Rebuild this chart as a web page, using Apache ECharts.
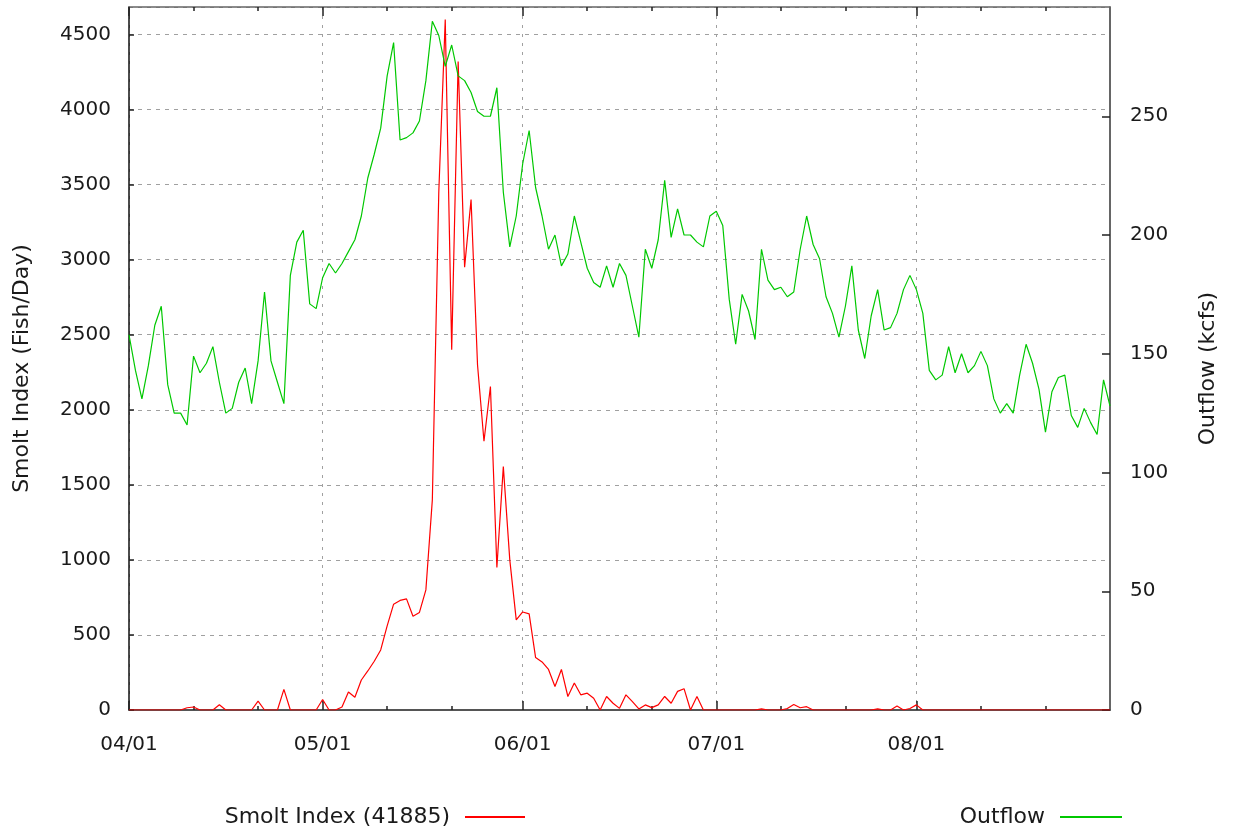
<!DOCTYPE html>
<html>
<head>
<meta charset="utf-8">
<script src="https://cdn.jsdelivr.net/npm/echarts@6/dist/echarts.min.js"></script>
<style>
  html, body { margin: 0; padding: 0; background: #ffffff; }
  #chart { width: 1234px; height: 835px; }
</style>
</head>
<body>
<div id="chart"></div>
<script>
// ---- Data ----
const monthNumbers = [4, 5, 6, 7, 8];
const monthDays = [30, 31, 30, 31, 31];
const monthLabels = ['04/01', '05/01', '06/01', '07/01', '08/01'];

// Smolt Index (Fish/Day), one value per day 04/01 .. 08/31
const smolt = [
  0,0,0,0,0,0,0,0,0,15,
  20,0,0,0,35,0,0,0,0,0,
  59,0,0,0,137,0,0,0,0,0,
  70,0,0,20,120,85,200,260,325,400,
  560,705,730,740,625,650,800,1400,3450,4600,
  2400,4320,2950,3400,2300,1790,2155,949,1621,1000,
  600,653,640,349,320,270,157,270,90,180,
  101,112,78,0,90,45,11,101,56,7,
  34,16,34,90,45,124,142,0,90,0,
  0,0,0,0,0,0,0,0,7,0,
  0,0,10,37,15,22,0,0,0,0,
  0,0,0,0,0,0,7,0,0,27,
  0,10,34,0,0,0,0,0,0,0,
  0,0,0,0,0,0,0,0,0,0,
  0,0,0,0,0,0,0,0,0,0,
  0,0,0
];

// Outflow (kcfs), one value per day 04/01 .. 08/31
const outflow = [
  158,143,131,145,162,170,137,125,125,120,
  149,142,146,153,138,125,127,138,144,129,
  147,176,147,138,129,183,197,202,171,169,
  182,188,184,188,193,198,208,224,234,245,
  267,281,240,241,243,248,265,290,284,271,
  280,267,265,260,252,250,250,262,218,195,
  208,230,244,220,208,194,200,187,192,208,
  197,186,180,178,187,178,188,183,170,157,
  194,186,198,223,199,211,200,200,197,195,
  208,210,204,173,154,175,168,156,194,181,
  177,178,174,176,194,208,196,190,174,167,
  157,170,187,160,148,166,177,160,161,167,
  177,183,177,167,143,139,141,153,142,150,
  142,145,151,145,131,125,129,125,141,154,
  146,135,117,134,140,141,124,119,127,121,
  116,139,128
];

const seriesNames = ['Smolt Index (41885)', 'Outflow'];
const leftAxisName = 'Smolt Index (Fish/Day)';
const rightAxisName = 'Outflow (kcfs)';

// ---- Categories (dates) ----
const dates = [];
monthNumbers.forEach((m, k) => {
  for (let d = 1; d <= monthDays[k]; d++) {
    dates.push(String(m).padStart(2, '0') + '/' + String(d).padStart(2, '0'));
  }
});
const isMonthStart = (i) => monthLabels.indexOf(dates[i]) >= 0;
const isMinor = (i) => /\/(11|21)$/.test(dates[i]);

const FONT = 'DejaVu Sans';
const TXT = '#1a1a1a';
const gridDash = { color: '#a0a0a0', width: 1 };

const chart = echarts.init(document.getElementById('chart'), null, { renderer: 'canvas' });

const baseX = (extra) => Object.assign({
  type: 'category',
  data: dates,
  boundaryGap: false,
  gridIndex: 0,
  axisLabel: { show: false },
  splitLine: { show: false },
  axisPointer: { show: false }
}, extra);

chart.setOption({
  animation: false,
  backgroundColor: '#ffffff',
  textStyle: { fontFamily: FONT, color: TXT },
  grid: { left: 129, right: 124, top: 7, bottom: 125, containLabel: false },
  legend: [
    {
      data: [seriesNames[0]],
      right: 704, top: 801, align: 'right', orient: 'horizontal',
      icon: 'rect', itemWidth: 60, itemHeight: 2,
      selectedMode: false,
      textStyle: { fontFamily: FONT, fontSize: 22, color: TXT, padding: [0, 10, 0, 0] }
    },
    {
      data: [seriesNames[1]],
      right: 107, top: 801, align: 'right', orient: 'horizontal',
      icon: 'rect', itemWidth: 62, itemHeight: 2,
      selectedMode: false,
      textStyle: { fontFamily: FONT, fontSize: 22, color: TXT, padding: [0, 10, 0, 0] }
    }
  ],
  xAxis: [
    baseX({
      position: 'bottom',
      axisLine: { show: true, lineStyle: { color: '#555555', width: 2 } },
      axisTick: { show: true, inside: true, length: 9, interval: (i) => isMonthStart(i), lineStyle: { color: '#222', width: 1.5 } },
      axisLabel: { show: true, interval: (i) => isMonthStart(i), margin: 25, fontFamily: FONT, fontSize: 20, color: TXT },
      splitLine: { show: true, interval: (i) => isMonthStart(i), lineStyle: Object.assign({ type: [3, 6] }, gridDash) }
    }),
    baseX({
      position: 'bottom',
      axisLine: { show: false },
      axisTick: { show: true, inside: true, length: 4, interval: (i) => isMinor(i), lineStyle: { color: '#222', width: 1.5 } }
    }),
    baseX({
      position: 'top',
      axisLine: { show: true, lineStyle: { color: '#666666', width: 1.5 } },
      axisTick: { show: true, inside: true, length: 9, interval: (i) => isMonthStart(i), lineStyle: { color: '#222', width: 1.5 } }
    }),
    baseX({
      position: 'top',
      axisLine: { show: false },
      axisTick: { show: true, inside: true, length: 4, interval: (i) => isMinor(i), lineStyle: { color: '#222', width: 1.5 } }
    })
  ],
  yAxis: [
    {
      type: 'value', position: 'left', min: 0, max: 4683, interval: 500,
      name: leftAxisName, nameLocation: 'middle', nameGap: 96, nameRotate: 90,
      nameTextStyle: { fontFamily: FONT, fontSize: 22, color: TXT, padding: [0, 20, 0, 0] },
      axisLine: { show: true, lineStyle: { color: '#111111', width: 1.5 } },
      axisTick: { show: true, inside: true, length: 5, lineStyle: { color: '#222', width: 1.5 } },
      axisLabel: {
        margin: 18, fontFamily: FONT, fontSize: 20, color: TXT, showMaxLabel: false,
        formatter: (v) => (v % 500 === 0 ? String(v) : '')
      },
      splitLine: { show: true, lineStyle: Object.assign({ type: [4, 5] }, gridDash) },
      axisPointer: { show: false }
    },
    {
      type: 'value', position: 'right', min: 0, max: 296, interval: 50,
      name: rightAxisName, nameLocation: 'middle', nameGap: 87, nameRotate: 90,
      nameTextStyle: { fontFamily: FONT, fontSize: 22, color: TXT, padding: [0, 20, 0, 0] },
      axisLine: { show: true, lineStyle: { color: '#333333', width: 1.5 } },
      axisTick: { show: true, inside: true, length: 8, lineStyle: { color: '#222', width: 1.5 } },
      axisLabel: {
        margin: 20, fontFamily: FONT, fontSize: 20, color: TXT, showMaxLabel: false,
        formatter: (v) => (v % 50 === 0 ? String(v) : '')
      },
      splitLine: { show: false },
      axisPointer: { show: false }
    }
  ],
  series: [
    {
      name: seriesNames[0], type: 'line', xAxisIndex: 0, yAxisIndex: 0,
      data: smolt, symbol: 'none', showSymbol: false, smooth: false,
      color: '#ff0000', lineStyle: { color: '#ff0000', width: 1.2 },
      emphasis: { disabled: true }
    },
    {
      name: seriesNames[1], type: 'line', xAxisIndex: 0, yAxisIndex: 1,
      data: outflow, symbol: 'none', showSymbol: false, smooth: false,
      color: '#00c800', lineStyle: { color: '#00c800', width: 1.2 },
      emphasis: { disabled: true }
    }
  ]
});
</script>
</body>
</html>
